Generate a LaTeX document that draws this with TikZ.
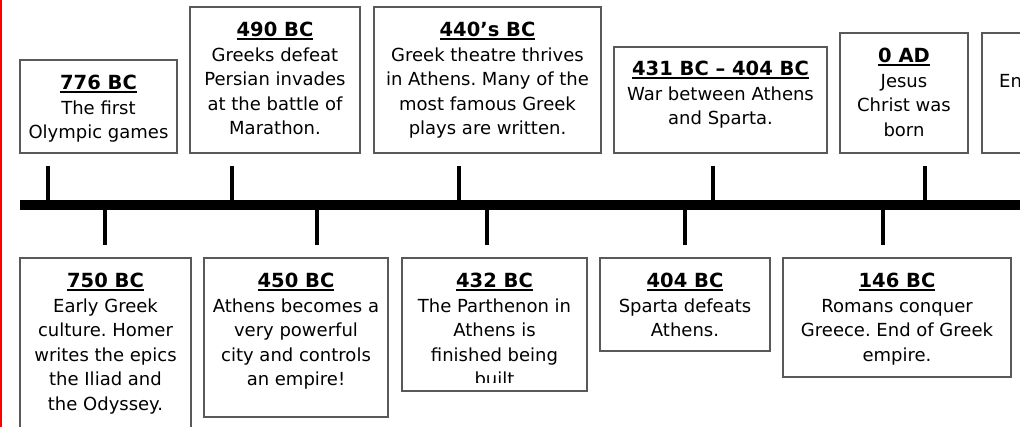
\documentclass[tikz,border=0pt]{standalone}
\usepackage{fontspec}
\setmainfont{DejaVu Sans}
\frenchspacing
\newcommand\evhead[1]{{\fontsize{19.5}{24.5}\selectfont\bfseries\setbox0\hbox{#1}\rlap{\rule[-3.2pt]{\wd0}{1.5pt}}\box0}}
\tikzstyle{evbox}=[draw=black!65,line width=1.3pt,inner sep=0pt,outer sep=0pt]
\tikzstyle{evtext}=[align=center,inner sep=0pt,anchor=north,font=\fontsize{18}{24.5}\selectfont]
\tikzstyle{palo}=[line width=4pt]

\begin{document}
\begin{tikzpicture}[x=1pt,y=-1pt]
  \useasboundingbox (0,0) rectangle (1020,427);
  \clip (0,0) rectangle (1020,427);
  \fill[red] (0,0) rectangle (2,427);
  % linea del tiempo
  \draw[line width=10pt] (20,205) -- (1020,205);
  \foreach \x in {48,232,459,713,925}
    \draw[palo] (\x,166) -- (\x,200);
  \foreach \x in {105,317,487,685,883}
    \draw[palo] (\x,210) -- (\x,245);
  % arriba
  \node[evbox,minimum width=157,minimum height=93] (b776) at (98.5,106.5) {};
  \node[evtext] (t776) at (98.5,75) {\evhead{776 BC}\\The first\\Olympic games};
  \node[evbox,minimum width=170,minimum height=146] (b490) at (275,80) {};
  \node[evtext] (t490) at (275,22) {\evhead{490 BC}\\Greeks defeat\\Persian invades\\at the battle of\\Marathon.};
  \node[evbox,minimum width=227,minimum height=146] (b440) at (487.5,80) {};
  \node[evtext] (t440) at (487.5,22) {\evhead{440’s BC}\\Greek theatre thrives\\in Athens. Many of the\\most famous Greek\\plays are written.};
  \node[evbox,minimum width=213,minimum height=106] (b431) at (720.5,100) {};
  \node[evtext] (t431) at (720.5,61) {\evhead{431 BC – 404 BC}\\War between Athens\\and Sparta.};
  \node[evbox,minimum width=128,minimum height=120] (b0) at (904,93) {};
  \node[evtext] (t0) at (904,48) {\evhead{0 AD}\\Jesus\\Christ was\\born};
  \node[evbox,minimum width=80,minimum height=120] (bEn) at (1022,93) {};
  \node[evtext,anchor=base west] (tEn) at (999,88) {En};
  % abajo
  \node[evbox,minimum width=171,minimum height=182] (b750) at (105.5,349) {};
  \node[evtext] (t750) at (105.5,273) {\evhead{750 BC}\\Early Greek\\culture. Homer\\writes the epics\\the Iliad and\\the Odyssey.};
  \node[evbox,minimum width=184,minimum height=159] (b450) at (296,337.5) {};
  \node[evtext] (t450) at (296,273) {\evhead{450 BC}\\Athens becomes a\\very powerful\\city and controls\\an empire!};
  \node[evbox,minimum width=185,minimum height=133] (b432) at (494.5,324.5) {};
  \begin{scope}
    \clip (402,258) rectangle (587,383); % se corta el texto
    \node[evtext] (t432) at (494.5,273) {\evhead{432 BC}\\The Parthenon in\\Athens is\\finished being\\built};
  \end{scope}
  \node[evbox,minimum width=170,minimum height=93] (b404) at (685,304.5) {};
  \node[evtext] (t404) at (685,273) {\evhead{404 BC}\\Sparta defeats\\Athens.};
  \node[evbox,minimum width=228,minimum height=119] (b146) at (897,317.5) {};
  \node[evtext] (t146) at (897,273) {\evhead{146 BC}\\Romans conquer\\Greece. End of Greek\\empire.};
\end{tikzpicture}
\end{document}
